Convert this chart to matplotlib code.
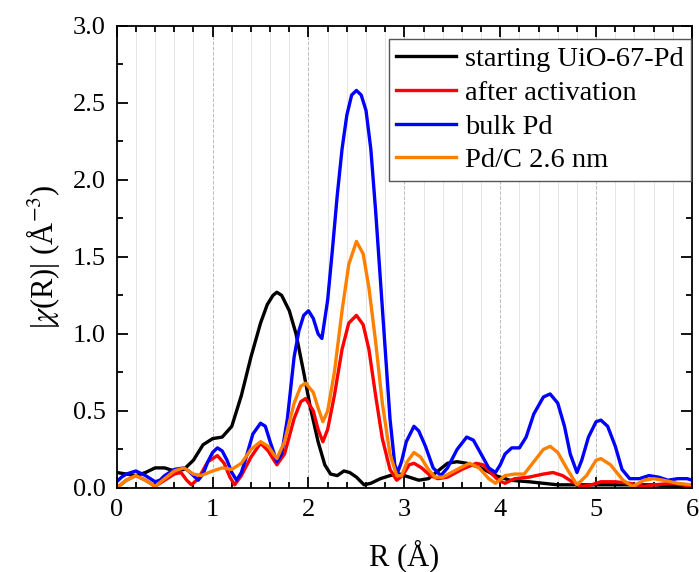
import matplotlib
matplotlib.use('Agg')
import matplotlib.pyplot as plt
from matplotlib.ticker import MultipleLocator

plt.rcParams['font.family'] = ['Liberation Serif', 'DejaVu Serif']
plt.rcParams['mathtext.fontset'] = 'stix'

# |chi(R)| curves as (R, value) pairs
r_start = [0.0, 0.1, 0.2, 0.3, 0.4, 0.5, 0.6, 0.7, 0.8, 0.9, 1.0, 1.1, 1.2, 1.3, 1.4, 1.5,
           1.57, 1.63, 1.67, 1.72, 1.8, 1.87, 1.95, 2.02, 2.1, 2.17, 2.23, 2.3, 2.37, 2.43,
           2.5, 2.58, 2.65, 2.75, 2.85, 2.95, 3.05, 3.15, 3.25, 3.35, 3.45, 3.55, 3.65, 3.8,
           3.95, 4.1, 4.3, 4.45, 4.6, 4.8, 5.0, 5.3, 5.6, 5.85, 6.0]
chi_start = [0.10, 0.09, 0.08, 0.10, 0.13, 0.13, 0.11, 0.12, 0.18, 0.28, 0.32, 0.33, 0.40,
             0.60, 0.85, 1.07, 1.19, 1.25, 1.27, 1.25, 1.15, 1.00, 0.75, 0.52, 0.30, 0.15,
             0.09, 0.08, 0.11, 0.10, 0.07, 0.02, 0.03, 0.06, 0.08, 0.09, 0.07, 0.05, 0.06,
             0.11, 0.16, 0.17, 0.16, 0.13, 0.08, 0.05, 0.04, 0.03, 0.02, 0.02, 0.02, 0.02,
             0.02, 0.01, 0.01]

r_act = [0.0, 0.1, 0.2, 0.3, 0.4, 0.5, 0.6, 0.67, 0.73, 0.78, 0.85, 0.95, 1.05, 1.12, 1.18,
         1.23, 1.3, 1.4, 1.5, 1.58, 1.67, 1.75, 1.85, 1.92, 1.97, 2.05, 2.1, 2.15, 2.2, 2.27,
         2.35, 2.42, 2.5, 2.57, 2.63, 2.7, 2.77, 2.85, 2.92, 2.98, 3.05, 3.1, 3.18, 3.27,
         3.35, 3.45, 3.6, 3.75, 3.82, 3.9, 3.98, 4.05, 4.15, 4.3, 4.45, 4.55, 4.65, 4.75,
         4.85, 4.95, 5.05, 5.2, 5.35, 5.5, 5.6, 5.8, 6.0]
chi_act = [0.00, 0.05, 0.08, 0.05, 0.01, 0.05, 0.09, 0.10, 0.05, 0.02, 0.06, 0.17, 0.21,
           0.16, 0.07, 0.02, 0.08, 0.20, 0.29, 0.24, 0.15, 0.22, 0.45, 0.56, 0.58, 0.50,
           0.38, 0.30, 0.38, 0.60, 0.90, 1.07, 1.12, 1.06, 0.90, 0.60, 0.32, 0.12, 0.05,
           0.08, 0.15, 0.16, 0.13, 0.08, 0.06, 0.07, 0.12, 0.16, 0.15, 0.10, 0.05, 0.03,
           0.06, 0.07, 0.09, 0.10, 0.08, 0.04, 0.01, 0.02, 0.04, 0.04, 0.03, 0.01, 0.02,
           0.03, 0.01]

r_bulk = [0.0, 0.05, 0.1, 0.2, 0.3, 0.4, 0.45, 0.5, 0.6, 0.7, 0.75, 0.8, 0.85, 0.9, 0.95,
          1.0, 1.05, 1.1, 1.15, 1.2, 1.25, 1.3, 1.35, 1.42, 1.5, 1.55, 1.6, 1.67, 1.72,
          1.78, 1.85, 1.9, 1.95, 2.0, 2.05, 2.1, 2.14, 2.2, 2.25, 2.3, 2.35, 2.4, 2.45, 2.5,
          2.55, 2.6, 2.65, 2.7, 2.75, 2.8, 2.85, 2.9, 2.93, 2.97, 3.02, 3.1, 3.15, 3.22,
          3.3, 3.38, 3.45, 3.55, 3.65, 3.72, 3.8, 3.88, 3.95, 4.0, 4.05, 4.12, 4.2, 4.27,
          4.35, 4.45, 4.52, 4.6, 4.67, 4.73, 4.8, 4.85, 4.92, 5.0, 5.05, 5.12, 5.2, 5.27,
          5.35, 5.45, 5.55, 5.65, 5.75, 5.85, 5.95, 6.0]
chi_bulk = [0.04, 0.07, 0.09, 0.11, 0.08, 0.04, 0.05, 0.08, 0.12, 0.13, 0.11, 0.08, 0.05,
            0.09, 0.17, 0.23, 0.26, 0.24, 0.18, 0.10, 0.05, 0.10, 0.20, 0.35, 0.42, 0.40,
            0.30, 0.17, 0.22, 0.45, 0.85, 1.02, 1.12, 1.15, 1.10, 1.00, 0.97, 1.22, 1.55,
            1.90, 2.20, 2.42, 2.55, 2.58, 2.55, 2.45, 2.20, 1.80, 1.35, 0.90, 0.45, 0.15,
            0.10, 0.17, 0.30, 0.40, 0.37, 0.27, 0.13, 0.08, 0.13, 0.25, 0.33, 0.31, 0.22,
            0.13, 0.10, 0.15, 0.22, 0.26, 0.26, 0.33, 0.48, 0.59, 0.61, 0.55, 0.40, 0.22,
            0.10, 0.18, 0.33, 0.43, 0.44, 0.40, 0.27, 0.12, 0.06, 0.06, 0.08, 0.07, 0.05,
            0.06, 0.06, 0.05]

r_pdc = [0.0, 0.1, 0.2, 0.3, 0.4, 0.5, 0.6, 0.7, 0.8, 0.88, 1.0, 1.1, 1.2, 1.3, 1.4, 1.5,
         1.58, 1.67, 1.75, 1.85, 1.92, 1.97, 2.05, 2.1, 2.15, 2.2, 2.27, 2.35, 2.42, 2.5,
         2.57, 2.63, 2.7, 2.77, 2.85, 2.92, 2.97, 3.03, 3.1, 3.17, 3.25, 3.32, 3.4, 3.55,
         3.68, 3.78, 3.88, 3.95, 4.05, 4.15, 4.25, 4.35, 4.45, 4.52, 4.6, 4.7, 4.8, 4.9,
         5.0, 5.05, 5.15, 5.28, 5.38, 5.5, 5.6, 5.7, 5.85, 6.0]
chi_pdc = [0.00, 0.05, 0.08, 0.05, 0.01, 0.06, 0.11, 0.13, 0.09, 0.08, 0.11, 0.13, 0.12,
           0.16, 0.25, 0.30, 0.27, 0.19, 0.30, 0.55, 0.66, 0.68, 0.62, 0.52, 0.43, 0.50,
           0.75, 1.15, 1.45, 1.60, 1.52, 1.30, 0.95, 0.55, 0.22, 0.08, 0.08, 0.17, 0.23,
           0.20, 0.12, 0.07, 0.07, 0.12, 0.16, 0.13, 0.06, 0.03, 0.08, 0.09, 0.09, 0.17,
           0.25, 0.27, 0.23, 0.12, 0.02, 0.08, 0.18, 0.19, 0.15, 0.05, 0.01, 0.05, 0.06,
           0.05, 0.03, 0.02]

fig = plt.figure(figsize=(6.99, 5.72), dpi=100)
ax = fig.add_axes([0.167, 0.147, 0.823, 0.808])

lw = 2.4
ax.plot(r_start, chi_start, color='#000000', lw=lw, label='starting UiO-67-Pd')
ax.plot(r_act, chi_act, color='#ff0000', lw=lw, label='after activation')
ax.plot(r_bulk, chi_bulk, color='#0000ff', lw=lw, label='bulk Pd')
ax.plot(r_pdc, chi_pdc, color='#ff8000', lw=lw, label='Pd/C 2.6 nm')

ax.set_xlim(0, 6)
ax.set_ylim(0, 3.0)
ax.xaxis.set_major_locator(MultipleLocator(1))
ax.xaxis.set_minor_locator(MultipleLocator(0.2))
ax.yaxis.set_major_locator(MultipleLocator(0.5))
ax.yaxis.set_minor_locator(MultipleLocator(0.25))
ax.yaxis.set_major_formatter(plt.FormatStrFormatter('%.1f'))

ax.grid(axis='x', which='major', color='#bbbbbb', linestyle='--', lw=0.7)
ax.grid(axis='x', which='minor', color='#e6e6e6', linestyle='-', lw=0.7)
ax.set_axisbelow(True)

ax.tick_params(which='both', direction='in', top=True, right=True, width=1.3,
               labelsize=19, pad=8)
ax.tick_params(which='major', length=8)
ax.tick_params(which='minor', length=4.5)
for s in ax.spines.values():
    s.set_linewidth(1.3)

ax.set_xlabel('R (Å)', fontsize=22, labelpad=13)
ax.set_ylabel(r'|$\chi$(R)| (Å$^{-3}$)', fontsize=22, labelpad=8)

leg = ax.legend(loc='upper right', bbox_to_anchor=(0.9975, 0.972), borderaxespad=0,
                fontsize=20.5, handlelength=2.1, handletextpad=0.3, borderpad=0.25,
                labelspacing=0.28, fancybox=False, framealpha=1)
leg.get_frame().set_edgecolor('#555555')
leg.get_frame().set_linewidth(1.0)

fig.savefig('out.png', dpi=100)
